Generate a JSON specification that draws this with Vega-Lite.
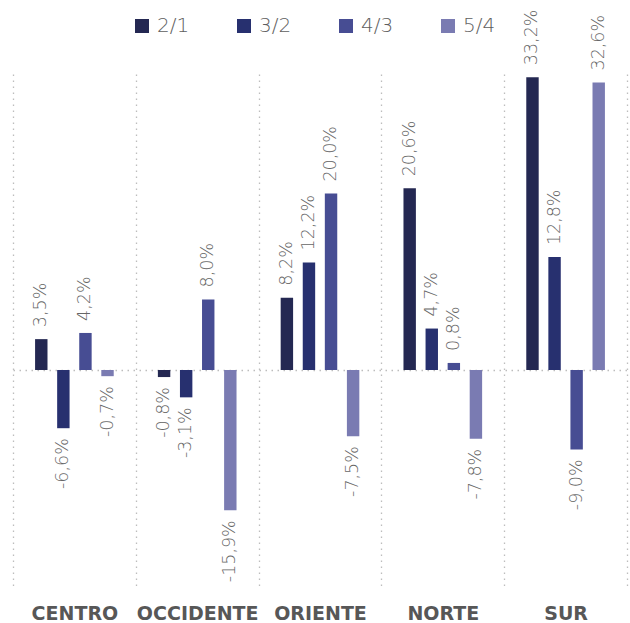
{
  "$schema": "https://vega.github.io/schema/vega-lite/v6.json",
  "width": 614,
  "height": 515,
  "autosize": {"type": "none"},
  "padding": {"left": 13, "top": 74, "right": 3, "bottom": 34},
  "config": {
    "view": {"stroke": null},
    "locale": {"number": {"decimal": ",", "thousands": ".", "grouping": [3], "currency": ["", " €"], "minus": "-"}}
  },
  "data": {
    "values": [
      {"region": "CENTRO", "serie": "2/1", "v": 0.035},
      {"region": "CENTRO", "serie": "3/2", "v": -0.066},
      {"region": "CENTRO", "serie": "4/3", "v": 0.042},
      {"region": "CENTRO", "serie": "5/4", "v": -0.007},
      {"region": "OCCIDENTE", "serie": "2/1", "v": -0.008},
      {"region": "OCCIDENTE", "serie": "3/2", "v": -0.031},
      {"region": "OCCIDENTE", "serie": "4/3", "v": 0.080},
      {"region": "OCCIDENTE", "serie": "5/4", "v": -0.159},
      {"region": "ORIENTE", "serie": "2/1", "v": 0.082},
      {"region": "ORIENTE", "serie": "3/2", "v": 0.122},
      {"region": "ORIENTE", "serie": "4/3", "v": 0.200},
      {"region": "ORIENTE", "serie": "5/4", "v": -0.075},
      {"region": "NORTE", "serie": "2/1", "v": 0.206},
      {"region": "NORTE", "serie": "3/2", "v": 0.047},
      {"region": "NORTE", "serie": "4/3", "v": 0.008},
      {"region": "NORTE", "serie": "5/4", "v": -0.078},
      {"region": "SUR", "serie": "2/1", "v": 0.332},
      {"region": "SUR", "serie": "3/2", "v": 0.128},
      {"region": "SUR", "serie": "4/3", "v": -0.090},
      {"region": "SUR", "serie": "5/4", "v": 0.326}
    ]
  },
  "encoding": {
    "x": {
      "field": "region",
      "type": "nominal",
      "sort": ["CENTRO", "OCCIDENTE", "ORIENTE", "NORTE", "SUR"],
      "scale": {"paddingInner": 0, "paddingOuter": 0},
      "axis": {
        "title": null,
        "domain": false,
        "ticks": false,
        "tickSize": 0,
        "tickBand": "extent",
        "grid": true,
        "gridColor": "#bdbdbd",
        "gridDash": [1.5, 4.5],
        "gridWidth": 1.3,
        "labelAngle": 0,
        "labelFont": "DejaVu Sans",
        "labelFontWeight": "bold",
        "labelFontSize": 19,
        "labelColor": "#575757",
        "labelBaseline": "alphabetic",
        "labelPadding": 30,
        "labelOverlap": false,
        "labelLimit": 200
      }
    },
    "xOffset": {
      "field": "serie",
      "type": "nominal",
      "scale": {"paddingInner": 0.4375, "paddingOuter": 1.1}
    },
    "y": {
      "field": "v",
      "type": "quantitative",
      "scale": {"domain": [-0.2483, 0.3356], "nice": false, "zero": false},
      "axis": {
        "title": null,
        "values": [0],
        "labels": false,
        "ticks": false,
        "domain": false,
        "grid": true,
        "gridColor": "#bdbdbd",
        "gridDash": [1.5, 4.5],
        "gridWidth": 1.3
      }
    }
  },
  "layer": [
    {
      "mark": {"type": "bar"},
      "encoding": {
        "color": {
          "field": "serie",
          "type": "nominal",
          "scale": {"domain": ["2/1", "3/2", "4/3", "5/4"], "range": ["#242852", "#27306f", "#474d93", "#7a7bb2"]},
          "legend": {
            "orient": "none",
            "legendX": 119,
            "legendY": -58,
            "direction": "horizontal",
            "title": null,
            "symbolType": "square",
            "symbolSize": 196,
            "symbolStrokeWidth": 0,
            "symbolOpacity": 1,
            "labelFont": "DejaVu Sans",
            "labelFontWeight": 200,
            "labelFontSize": 20,
            "labelColor": "#5e5e5e",
            "labelOffset": 5,
            "columnPadding": 44
          }
        }
      }
    },
    {
      "transform": [{"filter": "datum.v >= 0"}],
      "mark": {"type": "text", "angle": 270, "align": "left", "baseline": "middle", "dx": 12, "font": "DejaVu Sans", "fontWeight": 200, "fontSize": 17.5, "fill": "#666666"},
      "encoding": {"text": {"field": "v", "type": "quantitative", "format": ".1%"}}
    },
    {
      "transform": [{"filter": "datum.v < 0"}],
      "mark": {"type": "text", "angle": 270, "align": "right", "baseline": "middle", "dx": -10, "font": "DejaVu Sans", "fontWeight": 200, "fontSize": 17.5, "fill": "#666666"},
      "encoding": {"text": {"field": "v", "type": "quantitative", "format": ".1%"}}
    }
  ]
}
